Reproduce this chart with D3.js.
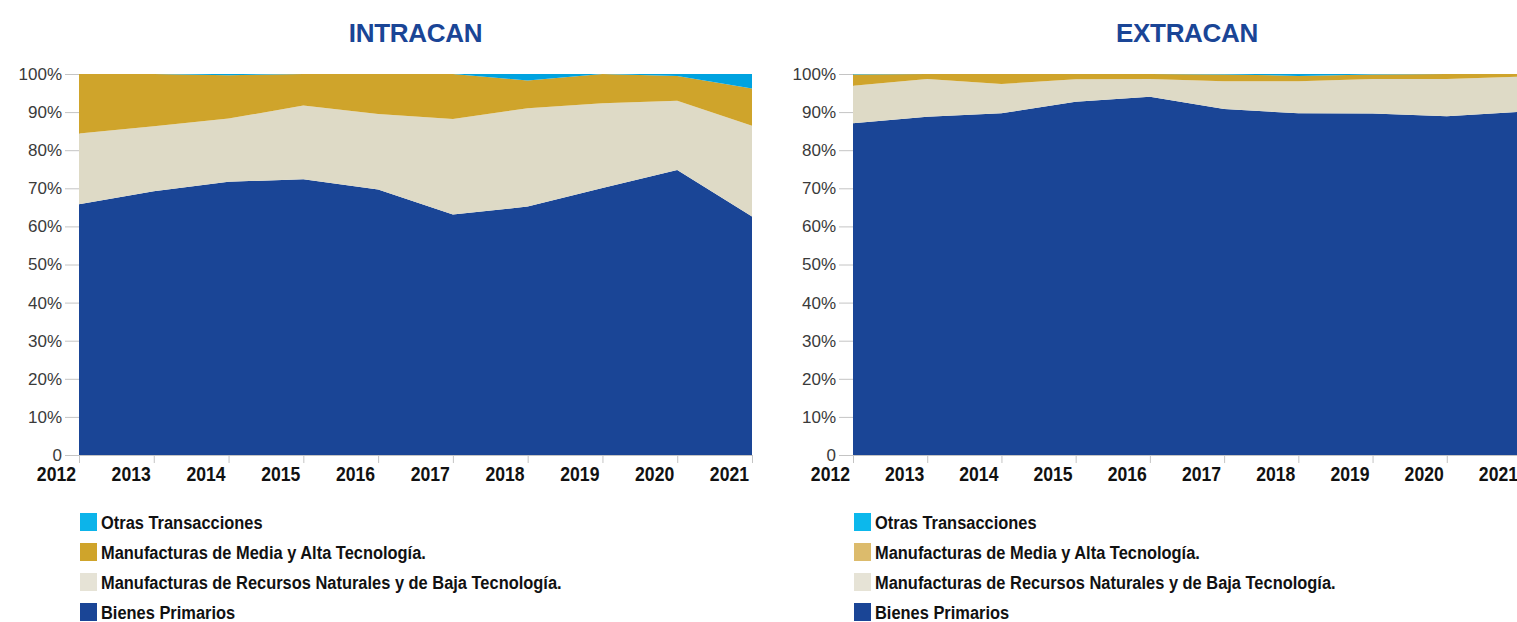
<!DOCTYPE html>
<html>
<head>
<meta charset="utf-8">
<script src="https://cdn.jsdelivr.net/npm/d3@7"></script>
<style>
	html, body { margin: 0; padding: 0; background: #fff; overflow: hidden; }
	svg { display: block; font-family: "Liberation Sans", Arial, sans-serif; }
</style>
</head>
<body>
<svg id="main-plot"></svg>
<script>
var years = [2012, 2013, 2014, 2015, 2016, 2017, 2018, 2019, 2020, 2021];
var keys = ['primarios', 'recursos', 'mediaAlta', 'otras'];
var seriesNames = ['Bienes Primarios', 'Manufacturas de Recursos Naturales y de Baja Tecnología.', 'Manufacturas de Media y Alta Tecnología.', 'Otras Transacciones'];
var yTicks = [0, 10, 20, 30, 40, 50, 60, 70, 80, 90, 100];

// INTRACAN, % share per year
var intraPrimarios = [65.8, 69.2, 71.7, 72.4, 69.7, 63.1, 65.2, 70.1, 74.8, 62.6];
var intraRecursos = [18.6, 17.1, 16.6, 19.3, 19.8, 25.1, 25.8, 22.2, 18.2, 23.8];
var intraMediaAlta = [15.6, 13.7, 11.4, 8.3, 10.5, 11.8, 7.3, 7.7, 6.5, 9.8];
var intraOtras = [0, 0, 0.3, 0, 0, 0, 1.7, 0, 0.5, 3.8];

// EXTRACAN, % share per year
var extraPrimarios = [87.1, 88.8, 89.7, 92.7, 94.0, 90.8, 89.7, 89.6, 88.9, 90.1];
var extraRecursos = [9.8, 9.9, 7.7, 5.9, 4.7, 7.3, 8.4, 9.1, 9.8, 9.2];
var extraMediaAlta = [3.0, 1.3, 2.6, 1.4, 1.3, 1.8, 1.4, 1.2, 1.3, 0.7];
var extraOtras = [0.1, 0, 0, 0, 0, 0.1, 0.5, 0.1, 0, 0];

(function init() {
	'use strict';

	var width = 1517,
		height = 622,
		svg = d3.select('svg#main-plot').attr('width', width).attr('height', height),
		areaColors = { primarios: '#1a4596', recursos: '#dedac6', mediaAlta: '#cfa42b', otras: '#00a3e0' };

	function buildTable(p, r, m, o) {
		return years.map(function(y, i) {
			return { year: y, primarios: p[i], recursos: r[i], mediaAlta: m[i], otras: o[i] };
		});
	}

	function drawChart(opts) {
		var x = d3.scaleLinear().domain([2012, 2021]).range([opts.left, opts.right]),
			y = d3.scaleLinear().domain([0, 100]).range([455, 74]),
			g = svg.append('g'),
			stacked = d3.stack().keys(keys)(opts.table),
			area = d3.area()
				.x(function(d) { return x(d.data.year); })
				.y0(function(d) { return y(d[0]); })
				.y1(function(d) { return y(d[1]); });

		// title
		g.append('text')
			.attr('x', (opts.left + opts.right) / 2)
			.attr('y', 42)
			.attr('text-anchor', 'middle')
			.attr('font-size', 26)
			.attr('font-weight', 'bold')
			.attr('letter-spacing', -0.3)
			.attr('fill', '#1a4596')
			.text(opts.title);

		// y axis
		var yAxis = g.append('g')
			.attr('transform', 'translate(' + opts.left + ',0)')
			.call(d3.axisLeft(y).tickValues(yTicks).tickSize(14).tickPadding(3)
				.tickFormat(function(d) { return d === 0 ? '0' : d + '%'; }));
		yAxis.selectAll('line, path').attr('stroke', '#c4c4c4');
		yAxis.selectAll('text')
			.attr('font-size', 17)
			.attr('font-family', '"Liberation Sans", Arial, sans-serif')
			.attr('fill', '#3a3a3a');

		// x axis
		var xAxis = g.append('g')
			.attr('transform', 'translate(0,455)')
			.call(d3.axisBottom(x).tickValues(years).tickSize(8).tickPadding(0)
				.tickFormat(d3.format('d')));
		xAxis.selectAll('line, path').attr('stroke', '#c4c4c4');
		xAxis.selectAll('text')
			.attr('text-anchor', 'end')
			.attr('x', -4)
			.attr('y', 26)
			.attr('dy', null)
			.attr('transform', 'scale(0.88,1)')
			.attr('font-size', 20)
			.attr('font-weight', 'bold')
			.attr('font-family', '"Liberation Sans", Arial, sans-serif')
			.attr('fill', '#111');

		// stacked areas
		g.append('g').selectAll('path')
			.data(stacked)
			.enter()
			.append('path')
			.attr('d', area)
			.attr('fill', function(d) { return areaColors[d.key]; });

		// legend, top to bottom: otras, mediaAlta, recursos, primarios
		var order = [3, 2, 1, 0];
		var legend = g.append('g').attr('transform', 'translate(' + (opts.left + 1) + ',513)');
		var item = legend.selectAll('g')
			.data(order)
			.enter()
			.append('g')
			.attr('transform', function(d, i) { return 'translate(0,' + (i * 30) + ')'; });
		item.append('rect')
			.attr('width', 17)
			.attr('height', 18)
			.attr('fill', function(d) { return opts.legendColors[keys[d]]; });
		item.append('text')
			.attr('transform', 'translate(21,16) scale(0.865,1)')
			.attr('font-size', 19)
			.attr('font-weight', 'bold')
			.attr('fill', '#111')
			.text(function(d) { return seriesNames[d]; });
	}

	drawChart({
		title: 'INTRACAN',
		left: 79,
		right: 752,
		table: buildTable(intraPrimarios, intraRecursos, intraMediaAlta, intraOtras),
		legendColors: { primarios: '#1a4596', recursos: '#e6e3d6', mediaAlta: '#cfa42b', otras: '#0cb4ea' }
	});

	drawChart({
		title: 'EXTRACAN',
		left: 853,
		right: 1521,
		table: buildTable(extraPrimarios, extraRecursos, extraMediaAlta, extraOtras),
		legendColors: { primarios: '#1a4596', recursos: '#e6e3d6', mediaAlta: '#dcbb6c', otras: '#0cb8ec' }
	});
})();
</script>
</body>
</html>
